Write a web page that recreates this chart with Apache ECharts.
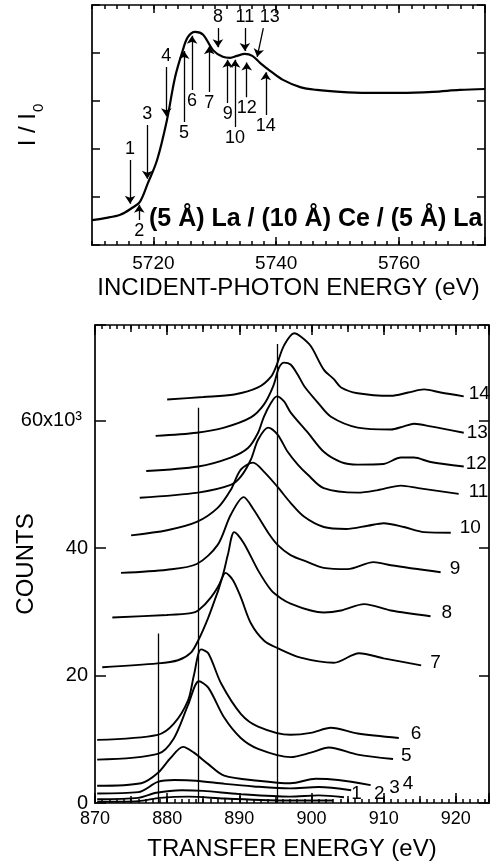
<!DOCTYPE html>
<html><head><meta charset="utf-8">
<script src="https://cdn.jsdelivr.net/npm/echarts@6/dist/echarts.min.js"></script>
<style>html,body{margin:0;padding:0;background:#fff}#c{width:490px;height:862px}</style>
</head><body><div id="c"></div>
<script>
// ---------- Top panel: absorption I/I0 vs incident-photon energy ----------
const absE = [5710.0,5712.1,5714.6,5716.5,5717.8,5719.1,5720.6,5722.2,5723.5,5724.7,5725.6,5726.8,5728.1,5729.7,5731.3,5732.5,5733.6,5734.9,5736.1,5737.4,5739.0,5741.1,5743.9,5746.6,5750.4,5754.8,5760.2,5765.5,5769.9,5774.0];
const absI = [0.52,0.56,0.63,0.77,0.90,1.29,1.77,2.60,3.48,4.02,4.33,4.44,4.38,4.06,3.92,3.90,3.94,3.98,3.94,3.79,3.63,3.44,3.29,3.23,3.19,3.17,3.17,3.19,3.23,3.25];
const topXTickLabels = [5720, 5740, 5760];
// arrows: label, tail (E, y) and tip (E, y)
const arrowLabels = ['1','2','3','4','5','6','7','8','9','10','11','12','13','14'];
const arrowTailE = [5716.2,5717.7,5719.0,5722.1,5725.0,5726.3,5729.1,5730.5,5732.1,5733.3,5734.9,5735.2,5737.9,5738.3];
const arrowTailY = [1.77,0.52,2.50,3.71,2.56,3.23,3.19,4.52,2.96,2.46,4.52,3.08,4.52,2.71];
const arrowTipE  = [5716.2,5717.7,5719.0,5722.1,5725.0,5726.3,5729.1,5730.5,5732.1,5733.3,5734.9,5735.2,5736.9,5738.3];
const arrowTipY  = [0.86,0.84,1.38,2.68,4.04,4.36,4.14,4.12,3.86,3.86,4.04,3.80,3.92,3.60];
const sampleText = '(5 Å) La / (10 Å) Ce / (5 Å) La';

// ---------- Bottom panel: emission spectra, counts vs transfer energy ----------
const specNames = ['1','2','3','4','5','6','7','8','9','10','11','12','13','14'];
const spec1 = [[870.3,0.2],[876.0,0.3],[879.0,0.8],[883.0,1.0],[888.0,0.7],[897.0,0.4],[903.0,0.4]];
const spec2 = [[870.3,0.6],[876.0,0.8],[878.5,1.6],[882.0,2.0],[885.0,1.9],[890.0,1.4],[897.0,1.0],[901.0,1.2],[904.5,0.9]];
const spec3 = [[870.3,1.5],[876.0,1.7],[878.7,3.3],[881.0,3.6],[884.0,3.5],[888.0,3.0],[892.0,2.6],[897.0,2.3],[901.0,2.5],[905.5,2.0]];
const spec4 = [[870.3,2.7],[876.4,3.1],[878.7,4.7],[880.5,7.1],[882.2,8.8],[883.7,7.9],[885.7,6.1],[887.9,4.3],[892.6,3.5],[897.1,3.1],[900.6,3.8],[903.7,3.6],[908.2,2.8]];
const spec5 = [[870.3,6.8],[878.7,7.7],[880.9,10.1],[882.9,15.4],[884.4,19.1],[885.7,18.1],[887.9,13.4],[890.2,10.2],[892.6,8.5],[897.1,7.2],[899.9,7.9],[902.4,8.7],[906.4,7.6],[911.3,6.9]];
const spec6 = [[870.3,9.9],[878.7,10.7],[880.9,12.4],[882.9,16.1],[883.7,20.0],[884.7,24.1],[885.7,23.5],[887.5,18.7],[890.2,14.0],[892.6,12.0],[897.1,10.7],[899.9,11.0],[902.7,11.8],[906.4,10.9],[912.1,10.2]];
const spec7 = [[871.0,21.3],[878.7,21.9],[881.5,22.4],[883.3,23.6],[884.3,25.5],[885.7,29.1],[887.0,33.1],[888.1,36.1],[889.1,35.0],[890.2,32.3],[891.6,28.2],[893.4,25.5],[895.3,24.3],[898.5,22.8],[903.1,22.0],[906.6,23.5],[910.0,22.7],[915.2,21.6]];
const spec8 = [[872.4,29.1],[880.0,29.5],[883.3,29.8],[884.3,30.2],[886.1,32.3],[887.5,35.0],[888.4,38.9],[889.3,42.5],[890.6,40.8],[892.6,36.5],[894.4,33.4],[895.8,32.1],[897.1,31.3],[899.9,30.2],[901.7,29.9],[904.1,30.2],[907.3,31.2],[911.0,30.2],[916.5,29.3]];
const spec9 = [[873.6,36.1],[880.0,36.6],[884.1,37.5],[887.0,40.5],[888.8,45.2],[890.6,48.0],[892.0,46.0],[894.0,42.4],[895.3,40.5],[897.1,38.9],[899.5,37.8],[901.7,36.9],[905.0,36.7],[908.6,37.8],[911.0,37.3],[917.9,36.2]];
const spec10 = [[875.0,42.0],[880.0,42.8],[884.1,44.1],[887.0,46.3],[888.8,49.1],[890.2,52.3],[891.9,53.4],[893.4,52.0],[895.3,49.6],[897.1,47.1],[899.0,44.9],[901.7,43.3],[904.8,43.0],[907.8,43.5],[910.0,43.9],[912.8,43.3],[915.6,42.5],[919.3,42.4]];
const spec11 = [[876.2,47.9],[884.3,48.7],[888.8,49.9],[890.2,51.2],[891.6,53.9],[892.6,57.0],[894.0,58.9],[895.3,57.8],[896.7,55.1],[898.1,53.1],[899.5,51.5],[901.7,49.4],[906.4,48.7],[909.2,49.1],[912.4,49.8],[914.8,49.4],[920.4,48.5]];
const spec12 = [[877.1,52.1],[884.3,52.8],[888.8,54.2],[891.2,55.7],[892.6,58.1],[893.4,60.6],[894.4,62.8],[895.2,63.8],[896.2,63.0],[897.1,61.3],[899.5,58.1],[901.7,55.1],[904.1,53.5],[906.4,53.1],[910.0,53.2],[912.4,54.2],[914.2,54.2],[916.5,53.5],[921.1,52.8]];
const spec13 = [[878.4,57.6],[884.1,58.1],[887.9,58.9],[891.6,60.5],[893.4,62.5],[894.7,65.4],[895.5,68.3],[896.2,69.1],[897.1,68.8],[898.1,67.2],[899.0,65.4],[900.9,62.8],[902.7,60.6],[906.4,58.9],[911.0,58.6],[912.8,59.1],[914.2,59.5],[916.5,59.1],[921.1,58.1]];
const spec14 = [[880.0,63.3],[885.0,63.7],[889.3,64.1],[892.6,65.2],[894.4,66.9],[895.2,68.8],[896.2,71.8],[897.6,73.7],[898.5,73.2],[899.9,71.7],[901.7,68.0],[903.1,66.5],[904.1,65.2],[906.4,64.3],[911.0,63.9],[913.4,64.4],[915.6,64.9],[917.9,64.4],[921.1,63.8]];
const refLineE = [878.8, 884.3, 895.2];
const refLineTop = [26.6, 62.0, 72.0];
const countTickValues = [0, 20, 40, 60];
const countTickLabels = ['0', '20', '40', '60x10³'];

// ---------- styling (not data) ----------
const FONT = "'Liberation Sans', Arial, Helvetica, sans-serif";
const INK = '#000';
function lineOn() { return { show: true, lineStyle: { color: INK, width: 1.7 } }; }
function tickLines() { return { show: true, showMinLine: true, showMaxLine: true, lineStyle: { color: INK, width: 1.5, type: 'solid', opacity: 1 } }; }
// end-label placement per spectrum: [gap, dy]
const endLabelPos = [[18,-7],[30,-3],[38,-2],[32,-1],[8,-3],[12,-4],[9,-3],[11,-3],[9,-4],[9,-5],[10,-2],[2,-3],[3,0],[5,-3]];
const specs = [spec1,spec2,spec3,spec4,spec5,spec6,spec7,spec8,spec9,spec10,spec11,spec12,spec13,spec14];

function steps(a, b, s) { const out = []; for (let v = a; v <= b + 1e-9; v += s) out.push(v); return out; }

function ax(grid, pos, min, max, extra) {
  return Object.assign({
    type: 'value', gridIndex: grid, position: pos, min: min, max: max,
    axisLine: { show: false }, splitLine: { show: false },
    axisTick: { show: false }, axisLabel: { show: false }
  }, extra);
}
function rect(l, t, w, h) { return { left: l, top: t, width: w, height: h, containLabel: false, outerBoundsMode: 'none' }; }

// frames
const TL = 92, TT = 5, TW = 393, TH = 240;      // top panel 5710..5774, 0..5
const BL = 95, BT = 325, BW = 394, BH = 478;    // bottom panel 870..924.6, 0..75
const pxPerEvTop = TW / 64;
const majorLeft = TL + 10 * pxPerEvTop, majorW = 54 * pxPerEvTop;   // 5720..5774

const grids = [
  rect(TL, TT, TW, TH), rect(TL, TT, TW, TH),
  rect(BL, BT, BW, BH), rect(BL, BT, BW, BH)
];
const xAxes = [
  ax(0, 'bottom', 5710, 5774, { axisLine: lineOn() }),
  ax(0, 'top', 5710, 5774, { axisLine: lineOn() }),
  ax(1, 'bottom', 5710, 5774, {
    axisLabel: { show: true, customValues: topXTickLabels, margin: 9, fontSize: 19, color: INK, fontFamily: FONT,
      formatter: function (v) { return String(Math.round(v)); } },
    name: 'INCIDENT-PHOTON ENERGY (eV)', nameLocation: 'middle', nameGap: 31, nameMoveOverlap: false,
    nameTextStyle: { fontSize: 24, color: INK, fontFamily: FONT }
  }),
  ax(2, 'bottom', 870, 924.6, { axisLine: lineOn() }),
  ax(2, 'top', 870, 924.6, { axisLine: lineOn() }),
  ax(3, 'bottom', 870, 924.6, {
    axisLabel: { show: true, customValues: steps(870, 920, 10), margin: 7, fontSize: 18, color: INK, fontFamily: FONT,
      formatter: function (v) { return String(Math.round(v)); } },
    name: 'TRANSFER ENERGY (eV)', nameLocation: 'middle', nameGap: 34, nameMoveOverlap: false,
    nameTextStyle: { fontSize: 24, color: INK, fontFamily: FONT }
  })
];
const yAxes = [
  ax(0, 'left', 0, 5, {
    axisLine: lineOn(),
    name: '{a|I / I}{b|0}', nameLocation: 'middle', nameRotate: 90, nameGap: 50, nameMoveOverlap: false,
    nameTextStyle: { color: INK, fontFamily: FONT, rich: {
      a: { fontSize: 24, color: INK, fontFamily: FONT, verticalAlign: 'top', lineHeight: 26 },
      b: { fontSize: 15, color: INK, fontFamily: FONT, verticalAlign: 'top', lineHeight: 16, padding: [15, 0, 0, 1] }
    } }
  }),
  ax(1, 'right', 0, 5, { axisLine: lineOn() }),
  ax(2, 'left', 0, 75, {
    axisLine: lineOn(),
    axisLabel: { show: true, customValues: countTickValues, margin: 7, fontSize: 20, color: INK, fontFamily: FONT,
      rich: { p: { fontSize: 20, color: INK, fontFamily: FONT, padding: [0, 6, 0, 0] } },
      formatter: function (v) {
        const s = countTickLabels[countTickValues.indexOf(Math.round(v))] || '';
        return s.length > 2 ? '{p|' + s + '}' : s;
      } },
    name: 'COUNTS', nameLocation: 'middle', nameRotate: 90, nameGap: 57, nameMoveOverlap: false,
    nameTextStyle: { fontSize: 24, color: INK, fontFamily: FONT }
  }),
  ax(3, 'right', 0, 75, { axisLine: lineOn() })
];

// Tick marks: thin strips along each frame edge whose split lines are the ticks.
function xTickStrip(l, t, w, h, min, max, interval) {
  const g = grids.length; grids.push(rect(l, t, w, h));
  xAxes.push(ax(g, 'bottom', min, max, { interval: interval, splitLine: tickLines() }));
  yAxes.push(ax(g, 'left', 0, 1, { show: false }));
}
function yTickStrip(l, t, w, h, min, max, interval) {
  const g = grids.length; grids.push(rect(l, t, w, h));
  xAxes.push(ax(g, 'bottom', 0, 1, { show: false }));
  yAxes.push(ax(g, 'left', min, max, { interval: interval, splitLine: tickLines() }));
}
// top panel
xTickStrip(TL, TT, TW, 4, 5710, 5774, 2);
xTickStrip(majorLeft, TT, majorW, 8, 5720, 5774, 20);
xTickStrip(TL, TT + TH - 4, TW, 4, 5710, 5774, 2);
xTickStrip(majorLeft, TT + TH - 8, majorW, 8, 5720, 5774, 20);
yTickStrip(TL, TT, 8, TH, 0, 5, 1);
yTickStrip(TL + TW - 8, TT, 8, TH, 0, 5, 1);
// bottom panel
xTickStrip(BL, BT, BW, 4, 870, 924.6, 1);
xTickStrip(BL, BT, BW, 7, 870, 924.6, 5);
xTickStrip(BL, BT, BW, 10, 870, 924.6, 10);
xTickStrip(BL, BT + BH - 4, BW, 4, 870, 924.6, 1);
xTickStrip(BL, BT + BH - 7, BW, 7, 870, 924.6, 5);
xTickStrip(BL, BT + BH - 10, BW, 10, 870, 924.6, 10);
yTickStrip(BL, BT, 11, BH, 0, 75, 20);
yTickStrip(BL + BW - 10, BT, 10, BH, 0, 75, 20);

const series = [];
series.push({
  type: 'line', xAxisIndex: 0, yAxisIndex: 0, smooth: 0.35, showSymbol: false, silent: true,
  lineStyle: { color: INK, width: 2.2 },
  data: absE.map(function (e, i) { return [e, absI[i]]; })
});
series.push({
  type: 'lines', coordinateSystem: 'cartesian2d', xAxisIndex: 0, yAxisIndex: 0, silent: true,
  symbol: ['none', 'arrow'], symbolSize: [0, 8],
  lineStyle: { color: INK, width: 1.3, opacity: 1 },
  label: { show: true, position: 'start', distance: 2, formatter: '{b}', fontSize: 18, color: INK, fontFamily: FONT },
  data: arrowLabels.map(function (n, i) {
    const item = { name: n, coords: [[arrowTailE[i], arrowTailY[i]], [arrowTipE[i], arrowTipY[i]]] };
    if (n === '13') item.label = { offset: [6, 0] };
    return item;
  })
});
specs.forEach(function (d, i) {
  series.push({
    type: 'line', name: specNames[i], xAxisIndex: 3, yAxisIndex: 2, smooth: 0.3, showSymbol: false, silent: true,
    lineStyle: { color: INK, width: 1.9 },
    data: d,
    endLabel: { show: true, formatter: specNames[i], distance: endLabelPos[i][0], offset: [0, endLabelPos[i][1]],
      fontSize: 19, color: INK, fontFamily: FONT }
  });
});
series.push({
  type: 'lines', coordinateSystem: 'cartesian2d', xAxisIndex: 3, yAxisIndex: 2, silent: true,
  symbol: ['none', 'none'],
  lineStyle: { color: INK, width: 1.3, opacity: 1 },
  data: refLineE.map(function (e, i) { return { coords: [[e, 0], [e, refLineTop[i]]] }; })
});

const chart = echarts.init(document.getElementById('c'), null, { renderer: 'canvas' });
chart.setOption({
  animation: false,
  backgroundColor: '#fff',
  textStyle: { fontFamily: FONT, color: INK },
  title: { text: sampleText, left: 144, top: 202,
    textStyle: { fontSize: 25, fontWeight: 'bold', color: INK, fontFamily: FONT } },
  grid: grids,
  xAxis: xAxes,
  yAxis: yAxes,
  series: series
});
</script></body></html>
